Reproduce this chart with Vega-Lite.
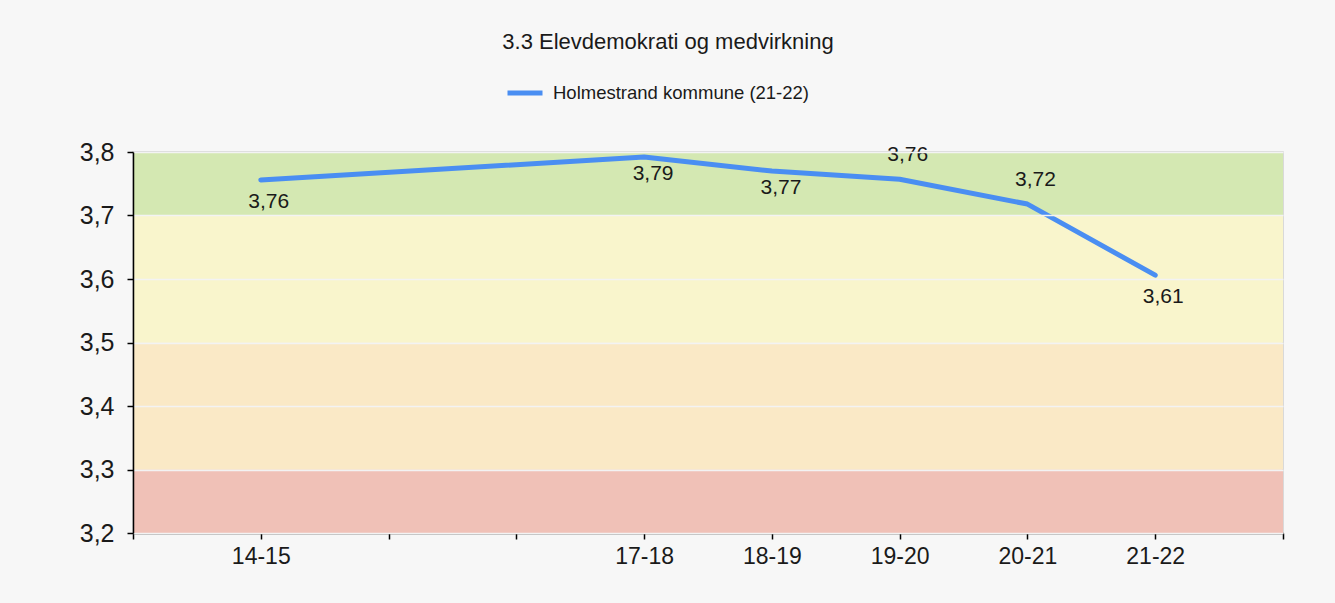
{
  "$schema": "https://vega.github.io/schema/vega-lite/v6.json",
  "width": 1150,
  "height": 381,
  "autosize": {"type": "none"},
  "padding": {"left": 133, "top": 152, "right": 52, "bottom": 70},
  "background": "#f7f7f7",
  "config": {
    "locale": {"number": {"decimal": ",", "thousands": " ", "grouping": [3], "currency": ["", " kr"]}},
    "font": "Liberation Sans",
    "view": {"stroke": "#d0d0d0", "strokeWidth": 1.5}
  },
  "title": {
    "text": "3.3 Elevdemokrati og medvirkning",
    "fontSize": 22,
    "fontWeight": "normal",
    "color": "#1a1a1a",
    "anchor": "middle",
    "dx": -40,
    "offset": 19
  },
  "datasets": {
    "bands": [
      {"level": "rød", "lo": 3.2, "hi": 3.3},
      {"level": "oransje", "lo": 3.3, "hi": 3.5},
      {"level": "gul", "lo": 3.5, "hi": 3.7},
      {"level": "grønn", "lo": 3.7, "hi": 3.8}
    ],
    "main": [
      {"season": "14-15", "value": 3.756},
      {"season": "17-18", "value": 3.792},
      {"season": "18-19", "value": 3.770},
      {"season": "19-20", "value": 3.757},
      {"season": "20-21", "value": 3.718},
      {"season": "21-22", "value": 3.606}
    ]
  },
  "layer": [
    {
      "data": {"name": "bands"},
      "mark": {"type": "rect"},
      "encoding": {
        "y": {
          "field": "lo",
          "type": "quantitative",
          "scale": {"domain": [3.2, 3.8], "nice": false, "zero": false},
          "axis": {
            "title": null,
            "values": [3.2, 3.3, 3.4, 3.5, 3.6, 3.7, 3.8],
            "format": ".1f",
            "grid": true,
            "gridColor": "#f3f3f3",
            "gridWidth": 1.5,
            "zindex": 1,
            "domainColor": "#000000",
            "domainWidth": 1.5,
            "tickColor": "#000000",
            "tickWidth": 1.5,
            "tickSize": 6,
            "labelFontSize": 25,
            "labelColor": "#1a1a1a",
            "labelPadding": 13
          }
        },
        "y2": {"field": "hi"},
        "fill": {
          "field": "level",
          "type": "nominal",
          "scale": {
            "domain": ["rød", "oransje", "gul", "grønn"],
            "range": ["#f0c1b7", "#fae9c6", "#f9f5cc", "#d4e8b2"]
          },
          "legend": null
        }
      }
    },
    {
      "data": {"name": "main"},
      "mark": {"type": "line", "strokeWidth": 5, "strokeCap": "round", "strokeJoin": "round"},
      "encoding": {
        "x": {
          "field": "season",
          "type": "ordinal",
          "scale": {
            "type": "point",
            "domain": ["_s", "14-15", "15-16", "16-17", "17-18", "18-19", "19-20", "20-21", "21-22", "_e"],
            "padding": 0
          },
          "axis": {
            "title": null,
            "labelAngle": 0,
            "labelExpr": "indexof(['_s','_e','15-16','16-17'], datum.value) >= 0 ? '' : datum.value",
            "domainColor": "#000000",
            "domainWidth": 1.5,
            "tickColor": "#000000",
            "tickWidth": 1.5,
            "tickSize": 6,
            "labelFontSize": 23,
            "labelColor": "#1a1a1a",
            "labelPadding": 6,
            "grid": false
          }
        },
        "y": {"field": "value", "type": "quantitative"},
        "stroke": {
          "datum": "Holmestrand kommune (21-22)",
          "type": "nominal",
          "scale": {"range": ["#4a8ef2"]},
          "legend": {
            "title": null,
            "orient": "none",
            "legendX": 372,
            "legendY": -79,
            "symbolType": "stroke",
            "symbolStrokeWidth": 5,
            "symbolSize": 1225,
            "labelFontSize": 18.5,
            "labelLimit": 500,
            "labelColor": "#1a1a1a",
            "labelOffset": 8
          }
        }
      }
    },
    {
      "data": {"name": "main"},
      "transform": [{"filter": "indexof(['14-15','21-22'], datum.season) >= 0"}],
      "mark": {"type": "text", "fontSize": 21, "color": "#1a1a1a", "dx": 8, "dy": 22},
      "encoding": {
        "x": {"field": "season", "type": "ordinal"},
        "y": {"field": "value", "type": "quantitative"},
        "text": {"field": "value", "type": "quantitative", "format": ".2f"}
      }
    },
    {
      "data": {"name": "main"},
      "transform": [{"filter": "indexof(['17-18','18-19'], datum.season) >= 0"}],
      "mark": {"type": "text", "fontSize": 21, "color": "#1a1a1a", "dx": 9, "dy": 17},
      "encoding": {
        "x": {"field": "season", "type": "ordinal"},
        "y": {"field": "value", "type": "quantitative"},
        "text": {"field": "value", "type": "quantitative", "format": ".2f"}
      }
    },
    {
      "data": {"name": "main"},
      "transform": [{"filter": "indexof(['19-20','20-21'], datum.season) >= 0"}],
      "mark": {"type": "text", "fontSize": 21, "color": "#1a1a1a", "dx": 8, "dy": -24},
      "encoding": {
        "x": {"field": "season", "type": "ordinal"},
        "y": {"field": "value", "type": "quantitative"},
        "text": {"field": "value", "type": "quantitative", "format": ".2f"}
      }
    }
  ]
}
